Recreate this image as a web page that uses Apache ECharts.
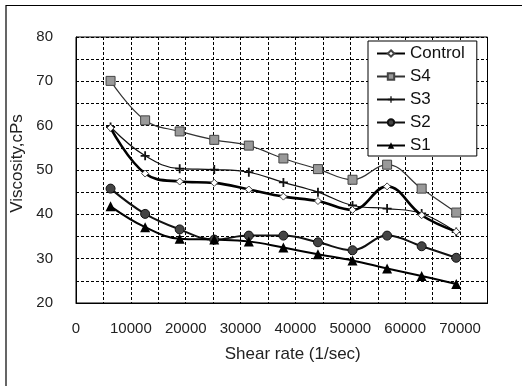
<!DOCTYPE html>
<html>
<head>
<meta charset="utf-8">
<script src="https://cdn.jsdelivr.net/npm/echarts@6/dist/echarts.min.js"></script>
<style>
html,body{margin:0;padding:0;background:#fff;}
#chart{width:525px;height:386px;}
</style>
</head>
<body>
<div id="chart"></div>
<script>
const shearRate = [6300, 12600, 18900, 25200, 31500, 37800, 44100, 50400, 56700, 63000, 69300];
const control = [59.5, 49.2, 47.4, 47.1, 45.6, 44.0, 43.0, 41.0, 46.3, 39.8, 36.1];
const s4 = [70.1, 61.2, 58.7, 56.8, 55.5, 52.6, 50.2, 47.8, 51.2, 45.8, 40.4];
const s3 = [59.7, 53.2, 50.3, 50.1, 49.5, 47.2, 45.0, 42.0, 41.3, 40.2, 36.0];
const s2 = [45.8, 40.1, 36.6, 34.3, 35.2, 35.2, 33.7, 31.9, 35.2, 32.8, 30.2];
const s1 = [41.8, 37.1, 34.5, 34.3, 33.9, 32.5, 31.0, 29.6, 27.8, 26.1, 24.3];
const seriesNames = ['Control', 'S4', 'S3', 'S2', 'S1'];

function pairs(ys) { return shearRate.map((x, i) => [x, ys[i]]); }

const FONT = '"Liberation Sans", Arial, sans-serif';
const chart = echarts.init(document.getElementById('chart'), null, {renderer: 'canvas'});

const plusPath = 'path://M4,0H6V4H10V6H6V10H4V6H0V4H4Z';

chart.setOption({
  backgroundColor: '#fff',
  animation: false,
  graphic: [
    {type: 'polyline', shape: {points: [[6, 400], [6, 5.5], [522, 5.5]]}, style: {stroke: '#000', lineWidth: 1.2, fill: null}}
  ],
  grid: {left: 76, right: 37.5, top: 37, bottom: 83, show: true, borderColor: '#000', borderWidth: 1, containLabel: false},
  legend: {
    orient: 'vertical', left: 368, top: 41,
    data: seriesNames,
    backgroundColor: '#fff', borderColor: '#000', borderWidth: 1,
    padding: [4, 12, 2, 8], itemGap: 6, itemWidth: 28, itemHeight: 8,
    textStyle: {fontFamily: FONT, fontSize: 17, color: '#111'}
  },
  xAxis: {
    type: 'value', min: 0, max: 75000, interval: 5000,
    name: 'Shear rate (1/sec)', nameLocation: 'middle', nameGap: 43,
    nameTextStyle: {fontFamily: FONT, fontSize: 17, color: '#222', padding: [0, 0, 0, 22]},
    axisLine: {show: true, lineStyle: {color: '#000', width: 1}},
    axisTick: {show: false},
    axisLabel: {fontFamily: FONT, fontSize: 15, color: '#222', margin: 18,
      formatter: v => (v % 10000 === 0 ? String(v) : '')},
    splitLine: {show: true, lineStyle: {color: '#000', type: [3, 2], width: 1}}
  },
  yAxis: {
    type: 'value', min: 20, max: 80, interval: 5,
    name: 'Viscosity,cPs', nameLocation: 'middle', nameGap: 50,
    nameTextStyle: {fontFamily: FONT, fontSize: 17, color: '#222', padding: [0, 0, 0, 13]},
    axisLine: {show: true, lineStyle: {color: '#000', width: 1}},
    axisTick: {show: false},
    axisLabel: {fontFamily: FONT, fontSize: 15, color: '#222', margin: 23,
      formatter: v => (v % 10 === 0 ? String(v) : '')},
    splitLine: {show: true, lineStyle: {color: '#000', type: [3, 2], width: 1}}
  },
  series: [
    {name: 'Control', type: 'line', smooth: 0.4, data: pairs(control),
      symbol: 'diamond', symbolSize: 7,
      lineStyle: {color: '#000', width: 2.6},
      itemStyle: {color: '#fff', borderColor: '#444', borderWidth: 1}, z: 5},
    {name: 'S4', type: 'line', smooth: 0.4, data: pairs(s4),
      symbol: 'rect', symbolSize: 9,
      lineStyle: {color: '#333', width: 1.2},
      itemStyle: {color: '#999', borderColor: '#444', borderWidth: 1}},
    {name: 'S3', type: 'line', smooth: 0.4, data: pairs(s3),
      symbol: plusPath, symbolSize: 9,
      lineStyle: {color: '#111', width: 1.2},
      itemStyle: {color: '#111', borderColor: '#111', borderWidth: 0}},
    {name: 'S2', type: 'line', smooth: 0.4, data: pairs(s2),
      symbol: 'circle', symbolSize: 9,
      lineStyle: {color: '#111', width: 2},
      itemStyle: {color: '#444', borderColor: '#111', borderWidth: 1}},
    {name: 'S1', type: 'line', smooth: 0.4, data: pairs(s1),
      symbol: 'triangle', symbolSize: 10,
      lineStyle: {color: '#000', width: 2},
      itemStyle: {color: '#000', borderColor: '#000', borderWidth: 0}}
  ]
});
</script>
</body>
</html>
